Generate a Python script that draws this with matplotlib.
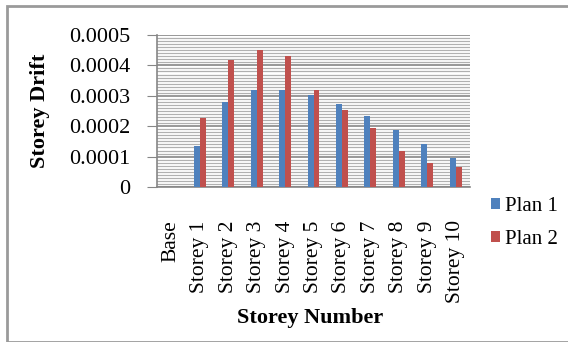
import numpy as np
import matplotlib.pyplot as plt
from matplotlib.patches import Rectangle
from matplotlib.ticker import MultipleLocator

storeys = ['Base', 'Storey 1', 'Storey 2', 'Storey 3', 'Storey 4', 'Storey 5',
           'Storey 6', 'Storey 7', 'Storey 8', 'Storey 9', 'Storey 10']
plan1 = [0.0, 0.000135, 0.00028, 0.00032, 0.00032, 0.000303,
         0.000273, 0.000235, 0.000188, 0.00014, 0.000096]
plan2 = [0.0, 0.000227, 0.000418, 0.00045, 0.00043, 0.00032,
         0.000253, 0.000195, 0.00012, 0.00008, 0.000067]
yticks = [0, 0.0001, 0.0002, 0.0003, 0.0004, 0.0005]
ytick_labels = ['0', '0.0001', '0.0002', '0.0003', '0.0004', '0.0005']

plt.rcParams['font.family'] = 'Liberation Serif'

W, H = 568, 342
fig = plt.figure(figsize=(W / 100, H / 100), dpi=100)

# plot area in pixel coordinates
left, right, top, bottom = 157, 470, 35, 187
ax = fig.add_axes([left / W, 1 - bottom / H, (right - left) / W, (bottom - top) / H])

x = np.arange(len(storeys))
bw = 0.21
ax.bar(x - bw / 2, plan1, bw, color='#4F81BD', label='Plan 1', zorder=3)
ax.bar(x + bw / 2, plan2, bw, color='#C0504D', label='Plan 2', zorder=3)

ax.set_xlim(-0.5, len(storeys) - 0.5)
ax.set_ylim(0, 0.0005)
ax.set_yticks(yticks)
ax.set_yticklabels(ytick_labels)
ax.yaxis.set_minor_locator(MultipleLocator(0.00001))
ax.grid(axis='y', which='major', color='#868686', linewidth=1.2, zorder=0)
ax.grid(axis='y', which='minor', color='#b0b0b0', linewidth=0.9, zorder=0)
ax.set_axisbelow(True)

ax.tick_params(axis='y', which='major', length=7, color='#868686', labelsize=16, pad=12)
ax.tick_params(axis='y', which='minor', length=0)
ax.set_xticks(x)
ax.set_xticklabels(storeys, rotation=90, fontsize=15.5, va='top')
ax.tick_params(axis='x', length=0, pad=24)

for side in ['top', 'right']:
    ax.spines[side].set_visible(False)
for side in ['left', 'bottom']:
    ax.spines[side].set_color('#868686')
    ax.spines[side].set_linewidth(1.2)

ax.set_ylabel('Storey Drift', fontsize=16, fontweight='bold', labelpad=14)
fig.text(310 / W, 1 - 318 / H, 'Storey Number', fontsize=16, fontweight='bold',
         ha='center', va='center')

fig.legend(loc='center left', bbox_to_anchor=(472 / W, 1 - 223 / H), frameon=False,
           fontsize=15, handlelength=0.45, handleheight=0.45, handletextpad=0.25,
           labelspacing=0.65)

fig.patches.append(Rectangle((7 / W, 0), 1, 1 - 6 / H, transform=fig.transFigure,
                             fill=False, edgecolor='#9a9a9a', linewidth=2))

fig.savefig('out.png', dpi=100)
